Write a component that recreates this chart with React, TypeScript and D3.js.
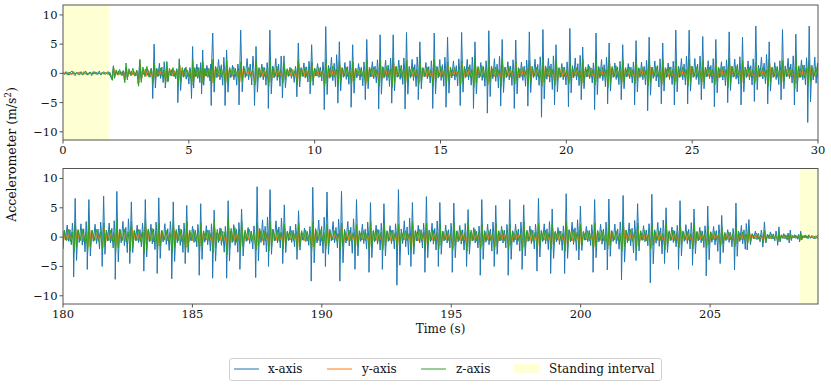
import React from 'react';
import * as d3 from 'd3';

// ---------- data ----------
// top panel: time of each tall x-axis spike (s), spike height, trough before it
const topStepTimes = [2.0, 2.5, 3.05,
  3.62, 4.12, 4.62, 5.15, 5.55, 5.95, 6.5, 7.06, 7.67, 8.22,
  8.78, 9.35, 9.88, 10.44, 10.98, 11.51, 12.07, 12.6, 13.12, 13.65,
  14.18, 14.75, 15.28, 15.84, 16.37, 16.92, 17.45, 17.99, 18.53, 19.07,
  19.59, 20.14, 20.65, 21.18, 21.7, 22.24, 22.77, 23.29, 23.83, 24.35,
  24.88, 25.42, 25.94, 26.47, 27.0, 27.53, 28.06, 28.59, 29.12, 29.65];
const topPeaks = [1.2, 1.0, 2.2,
  5.0, 2.0, 2.5, 4.6, 4.0, 6.9, 4.0, 7.4, 4.6, 7.4,
  3.0, 5.2, 4.9, 8.0, 5.4, 4.9, 5.8, 6.6, 6.6, 7.0,
  5.4, 6.9, 6.2, 7.0, 5.4, 7.3, 5.8, 5.7, 7.1, 7.5,
  4.9, 7.7, 4.5, 6.9, 5.2, 4.9, 5.6, 6.2, 5.2, 7.4,
  7.4, 6.3, 5.8, 7.1, 6.2, 8.1, 5.4, 7.5, 6.7, 8.1];
const topTroughs = [-1.0, -1.2, -1.8,
  -4.3, -2.5, -5.0, -4.3, -3.5, -5.5, -5.5, -5.4, -5.5, -6.0,
  -4.2, -4.0, -3.5, -6.2, -5.1, -5.8, -4.5, -6.1, -5.1, -6.1,
  -4.5, -6.0, -5.8, -5.5, -6.0, -6.8, -5.6, -6.0, -5.6, -7.5,
  -5.4, -5.7, -4.5, -6.2, -5.2, -4.5, -5.4, -6.4, -5.2, -5.4,
  -5.2, -4.5, -5.7, -5.0, -5.4, -4.8, -5.2, -4.5, -5.4, -8.4];
const topYAmp = [0.6, 0.7, 1.1,
  0.8, 0.9, 1.0, 0.9, 1.0, 1.1, 1.0, 1.0, 1.1, 1.0,
  0.9, 1.1, 1.0, 1.2, 1.0, 0.9, 1.1, 1.0, 1.2, 1.0,
  1.1, 1.0, 0.9, 1.2, 1.0, 1.1, 1.0, 1.2, 1.0, 1.1,
  1.2, 1.0, 1.1, 0.9, 1.2, 1.0, 1.1, 1.0, 1.2, 1.0,
  1.1, 1.0, 1.2, 1.0, 1.1, 1.0, 1.2, 1.0, 1.1, 1.0];
const topZAmp = [0.6, 0.8, 1.1,
  0.8, 0.9, 1.0, 1.0, 0.9, 1.1, 1.0, 0.9, 1.0, 1.1,
  0.8, 1.0, 0.9, 1.1, 1.0, 0.9, 1.0, 1.1, 1.2, 1.0,
  1.0, 1.1, 0.9, 1.0, 1.2, 1.0, 1.1, 0.9, 1.0, 1.1,
  1.0, 0.9, 1.1, 1.0, 1.2, 1.0, 0.9, 1.1, 1.0, 1.0,
  1.1, 1.0, 1.0, 1.2, 1.0, 0.9, 1.1, 1.0, 1.3, 1.0];

// bottom panel
const botStepTimes = [179.94,
  180.47, 181.0, 181.57, 182.08, 182.64, 183.18, 183.7, 184.26, 184.78, 185.32,
  185.84, 186.38, 186.9, 187.5, 188.0, 188.55, 189.1, 189.65, 190.2, 190.76,
  191.34, 191.88, 192.4, 192.96, 193.5, 194.04, 194.56, 195.1, 195.65, 196.18,
  196.72, 197.26, 197.8, 198.37, 198.9, 199.44, 199.99, 200.54, 201.09, 201.64,
  202.2, 202.75, 203.3, 203.84, 204.38, 204.91, 205.45, 206.0, 206.5, 207.1,
  207.66, 208.1, 208.5];
const botPeaks = [6.0,
  6.6, 6.4, 7.0, 7.8, 6.0, 6.4, 6.7, 6.0, 5.4, 5.7,
  4.6, 6.2, 4.8, 8.6, 8.1, 5.5, 4.5, 8.5, 7.7, 7.8,
  6.4, 5.9, 5.7, 8.1, 5.9, 6.9, 5.9, 5.8, 4.7, 6.4,
  5.4, 6.4, 5.5, 6.6, 4.8, 7.4, 5.3, 6.4, 6.5, 7.1,
  5.7, 7.3, 5.0, 6.2, 4.8, 5.3, 3.7, 5.8, 3.0, 2.6,
  1.75, 1.2, 1.0];
const botTroughs = [-3.5,
  -6.8, -5.5, -5.0, -7.2, -4.5, -5.8, -6.2, -7.1, -4.5, -6.5,
  -7.0, -7.0, -5.5, -6.9, -5.0, -4.5, -3.8, -7.5, -5.0, -7.5,
  -5.5, -6.0, -5.5, -8.2, -5.0, -6.0, -5.0, -6.0, -5.0, -6.5,
  -5.0, -6.5, -5.5, -5.8, -6.2, -6.2, -3.9, -6.0, -5.6, -7.3,
  -4.0, -7.8, -4.5, -5.5, -4.8, -6.6, -4.5, -5.6, -2.2, -1.7,
  -1.4, -1.0, -0.8];
const botYAmp = [1.0,
  1.0, 1.1, 1.2, 1.0, 1.1, 1.3, 1.0, 1.1, 1.2, 1.0,
  1.1, 1.2, 1.0, 1.3, 1.1, 1.0, 1.2, 1.1, 1.0, 1.2,
  1.0, 1.1, 1.2, 1.0, 1.3, 1.1, 1.0, 1.2, 1.0, 1.1,
  1.1, 1.0, 1.2, 1.0, 1.1, 1.3, 1.0, 1.1, 1.0, 1.2,
  1.0, 1.2, 0.9, 1.1, 1.0, 0.9, 0.8, 0.9, 0.6, 0.5,
  0.4, 0.3, 0.3];
const botZAmp = [1.2,
  1.3, 1.2, 1.1, 1.3, 1.2, 1.4, 1.1, 1.3, 1.2, 1.1,
  1.3, 1.5, 1.2, 1.1, 1.2, 1.0, 1.1, 1.2, 1.0, 1.1,
  1.0, 1.2, 1.1, 1.0, 1.2, 1.1, 1.0, 1.1, 1.2, 1.0,
  1.1, 1.0, 1.2, 1.1, 1.0, 1.2, 1.0, 1.1, 1.0, 1.2,
  1.1, 1.0, 1.1, 0.9, 1.0, 0.9, 0.8, 0.8, 0.6, 0.5,
  0.4, 0.3, 0.3];

// standing noise, one sample every 0.06 s
const standX = [0.1, -0.2, 0.3, 0.0, -0.3, 0.2, 0.4, -0.1, -0.4, 0.2, 0.1, -0.3, 0.3, -0.2, 0.0,
  0.4, -0.3, 0.1, 0.2, -0.4, 0.3, -0.1, 0.2, -0.2, 0.4, -0.3, 0.0, 0.3, -0.2, 0.1, 0.3, -0.3];
const standY = [0.0, 0.1, -0.1, 0.2, 0.0, -0.2, 0.1, 0.1, -0.1, 0.0, 0.2, -0.1, 0.0, 0.1, -0.2,
  0.1, 0.0, -0.1, 0.2, 0.0, -0.1, 0.1, 0.0, -0.2, 0.1, 0.0, 0.1, -0.1, 0.0, 0.2, -0.1, 0.1];
const standZ = [0.2, -0.1, 0.1, -0.3, 0.2, 0.0, -0.2, 0.3, -0.1, 0.1, -0.2, 0.2, 0.0, -0.3, 0.3,
  -0.1, 0.1, -0.2, 0.2, 0.0, -0.1, 0.3, -0.2, 0.1, 0.0, -0.2, 0.2, -0.1, 0.1, 0.0, -0.2, 0.2];

// typical shape of one step: [fraction of step period from the spike, value]
const shapeX = [[-0.11, -6], [0, 7], [0.1, -3.5], [0.2, 1.2], [0.3, -0.8], [0.42, 2.4],
  [0.52, -1.2], [0.62, 1.5], [0.72, -2.2], [0.8, 2.8], [0.86, 0.6]];
const shapeY = [[-0.06, -1.5], [0.04, 1.4], [0.15, -0.7], [0.28, 0.6], [0.42, -0.5],
  [0.56, 0.6], [0.7, -0.4], [0.82, 0.3]];
const shapeZ = [[-0.08, -2.0], [0.01, 2.2], [0.1, -1.4], [0.22, 1.0], [0.36, -0.5],
  [0.5, 1.1], [0.64, -0.6], [0.78, 0.7]];

const topTicks = [0, 5, 10, 15, 20, 25, 30];
const botTicks = [180, 185, 190, 195, 200, 205];
const yTicks = [-10, -5, 0, 5, 10];

const COLORS = { x: '#1f77b4', y: '#ff7f0e', z: '#2ca02c' };
const STAND_FILL = '#ffffd4';
const FONT = "'DejaVu Serif', serif";

type Pt = [number, number];

function buildSeries(times: number[], peaks: number[], troughs: number[], yAmp: number[], zAmp: number[]) {
  const xs: Pt[] = [], ys: Pt[] = [], zs: Pt[] = [];
  times.forEach((tp, i) => {
    const p = i < times.length - 1 ? times[i + 1] - tp : tp - times[i - 1];
    shapeX.forEach(([f, v]) => {
      const val = v === 7 ? peaks[i] : v === -6 ? troughs[i] : v > 0 ? v * peaks[i] / 7 : v * troughs[i] / -6;
      xs.push([tp + f * p, val]);
    });
    shapeY.forEach(([f, v]) => ys.push([tp + f * p, v * yAmp[i]]));
    shapeZ.forEach(([f, v]) => zs.push([tp + f * p, v * zAmp[i]]));
  });
  return { xs, ys, zs };
}

function standing(t0: number, n: number) {
  const xs: Pt[] = [], ys: Pt[] = [], zs: Pt[] = [];
  for (let k = 0; k < n; k++) {
    xs.push([t0 + k * 0.06, standX[k]]);
    ys.push([t0 + k * 0.06, standY[k]]);
    zs.push([t0 + k * 0.06, standZ[k]]);
  }
  return { xs, ys, zs };
}

const byT = (a: Pt, b: Pt) => a[0] - b[0];

const topStand = standing(0, 32);
const topWalk = buildSeries(topStepTimes, topPeaks, topTroughs, topYAmp, topZAmp);
const topData = {
  xs: [...topStand.xs, ...topWalk.xs].sort(byT),
  ys: [...topStand.ys, ...topWalk.ys].sort(byT),
  zs: [...topStand.zs, ...topWalk.zs].sort(byT),
};
const botWalk = buildSeries(botStepTimes, botPeaks, botTroughs, botYAmp, botZAmp);
const botStand = standing(208.82, 8);
const botData = {
  xs: [...botWalk.xs, ...botStand.xs].sort(byT),
  ys: [...botWalk.ys, ...botStand.ys].sort(byT),
  zs: [...botWalk.zs, ...botStand.zs].sort(byT),
};

const LEFT = 63, RIGHT = 818;
const fmt = (v: number) => (v < 0 ? '\u2212' + Math.abs(v) : String(v));

function Panel(props: { id: string; top: number; bottom: number; domain: [number, number]; ticks: number[];
  stand: [number, number]; data: { xs: Pt[]; ys: Pt[]; zs: Pt[] } }) {
  const { id, top, bottom, domain, ticks, stand, data } = props;
  const x = d3.scaleLinear().domain(domain).range([LEFT, RIGHT]);
  const y = d3.scaleLinear().domain([-11.4, 11.7]).range([bottom, top]);
  const line = d3.line<Pt>().x(d => x(d[0])).y(d => y(d[1]));
  return (
    <g>
      <clipPath id={id}>
        <rect x={LEFT} y={top} width={RIGHT - LEFT} height={bottom - top} />
      </clipPath>
      <rect x={x(stand[0])} y={top} width={x(stand[1]) - x(stand[0])} height={bottom - top} fill={STAND_FILL} clipPath={`url(#${id})`} />
      <g clipPath={`url(#${id})`} fill="none" strokeWidth={1} strokeLinejoin="round">
        <path d={line(data.xs) || ''} stroke={COLORS.x} />
        <path d={line(data.ys) || ''} stroke={COLORS.y} />
        <path d={line(data.zs) || ''} stroke={COLORS.z} />
      </g>
      <rect x={LEFT} y={top} width={RIGHT - LEFT} height={bottom - top} fill="none" stroke="#555" strokeWidth={1} />
      {yTicks.map(t => (
        <g key={t}>
          <line x1={LEFT - 3.5} x2={LEFT} y1={y(t)} y2={y(t)} stroke="#555" />
          <text x={LEFT - 5.5} y={y(t)} dy="0.35em" textAnchor="end" fontSize={11.5} fill="#111">{fmt(t)}</text>
        </g>
      ))}
      {ticks.map(t => (
        <g key={t}>
          <line x1={x(t)} x2={x(t)} y1={bottom} y2={bottom + 3.5} stroke="#555" />
          <text x={x(t)} y={bottom + 14} textAnchor="middle" fontSize={11.5} fill="#111">{t}</text>
        </g>
      ))}
    </g>
  );
}

export default function App() {
  return (
    <svg width={831} height={385} style={{ position: 'absolute', left: 0, top: 0, fontFamily: FONT, background: '#fff' }}>
      <Panel id="clipTop" top={5} bottom={140} domain={[0, 30]} ticks={topTicks} stand={[0, 1.83]} data={topData} />
      <Panel id="clipBot" top={168.5} bottom={304} domain={[180, 209.17]} ticks={botTicks} stand={[208.48, 209.17]} data={botData} />
      <text transform="translate(16,154.5) rotate(-90)" textAnchor="middle" fontSize={12.5} fill="#111">
        Accelerometer (m/s<tspan fontSize={8.5} dy={-5}>2</tspan><tspan dy={5}>)</tspan>
      </text>
      <text x={440.5} y={333} textAnchor="middle" fontSize={12} fill="#111">Time (s)</text>
      <g fontSize={12} fill="#111">
        <rect x={229.5} y={358.5} width={432} height={22} rx={2.5} fill="#fff" stroke="#d0d0d0" />
        <line x1={234} x2={259} y1={369} y2={369} stroke={COLORS.x} strokeWidth={1} />
        <text x={268} y={373}>x-axis</text>
        <line x1={327} x2={352} y1={369} y2={369} stroke={COLORS.y} strokeWidth={1} />
        <text x={362} y={373}>y-axis</text>
        <line x1={421} x2={446} y1={369} y2={369} stroke={COLORS.z} strokeWidth={1} />
        <text x={456} y={373}>z-axis</text>
        <rect x={514} y={364} width={26} height={9} fill={STAND_FILL} />
        <text x={549} y={373}>Standing interval</text>
      </g>
    </svg>
  );
}
